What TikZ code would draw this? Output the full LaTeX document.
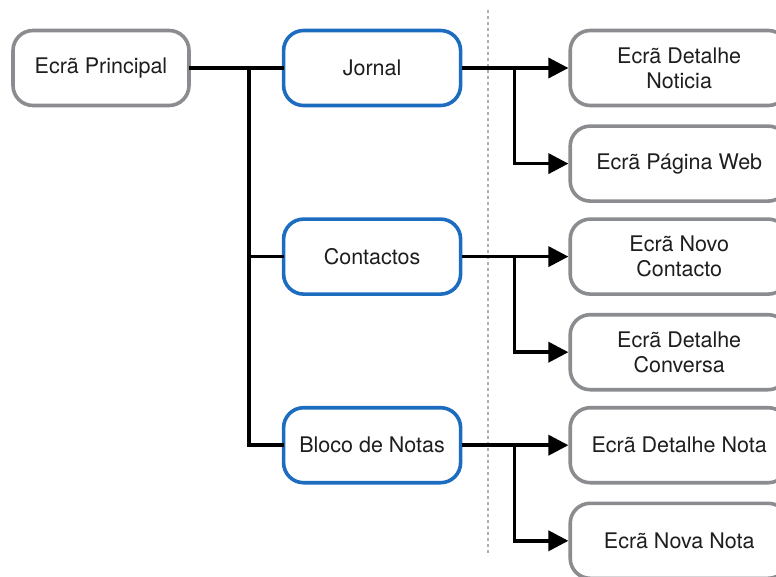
\documentclass[tikz,border=0pt]{standalone}
\usepackage{fontspec}
\setmainfont{TeX Gyre Heros}
\usepackage{xcolor}
\usepackage{tikz}
\usetikzlibrary{arrows.meta,positioning,calc}

\definecolor{screengray}{RGB}{138,140,143}
\definecolor{menublue}{RGB}{28,108,192}
\definecolor{textdark}{RGB}{30,30,30}

\begin{document}
\begin{tikzpicture}[
    x=1pt, y=1pt,
    node distance=17pt and 106pt,
    screen/.style={rectangle, draw=screengray, line width=3.6pt, rounded corners=20pt, fill=white, minimum width=218pt, minimum height=75pt, align=center, text=textdark, font=\fontsize{21.5}{25}\selectfont},
    menu/.style={screen, draw=menublue, minimum width=177pt},
    link/.style={line width=3.6pt, line cap=rect},
    arrow/.style={link, line cap=butt, -{Triangle[length=20pt,width=20pt]}}
]
\useasboundingbox (0,0) rectangle (776,-576);
\draw[screengray!70, line width=1.3pt, dash pattern=on 3pt off 3pt] (488,-10) -- (488,-556);
\node[screen, minimum width=176pt] (home) at (101,-68) {Ecrã Principal};
\node[menu, right=91pt of home] (jornal) {Jornal};
\node[menu, below=110pt of jornal] (contactos) {Contactos};
\node[menu, below=110pt of contactos] (notas) {Bloco de Notas};
\node[screen, right=of jornal] (noticia) {Ecrã Detalhe\\Noticia};
\node[screen, below=of noticia] (web) {Ecrã Página Web};
\node[screen, right=of contactos] (novocont) {Ecrã Novo\\Contacto};
\node[screen, below=of novocont] (conversa) {Ecrã Detalhe\\Conversa};
\node[screen, right=of notas] (detnota) {Ecrã Detalhe Nota};
\node[screen, below=of detnota] (novanota) {Ecrã Nova Nota};
\coordinate[right=58pt of home.east] (split);
\coordinate[right=52pt of jornal.east] (split1);
\coordinate[right=52pt of contactos.east] (split2);
\coordinate[right=52pt of notas.east] (split3);
\draw[link] (home) -- (jornal);
\draw[link] (split) |- (notas.west);
\draw[link] (split) |- (contactos.west);
\draw[arrow] (jornal) -- (noticia);
\draw[arrow] (split1) |- (web);
\draw[arrow] (contactos) -- (novocont);
\draw[arrow] (split2) |- (conversa);
\draw[arrow] (notas) -- (detnota);
\draw[arrow] (split3) |- (novanota);
\end{tikzpicture}
\end{document}
